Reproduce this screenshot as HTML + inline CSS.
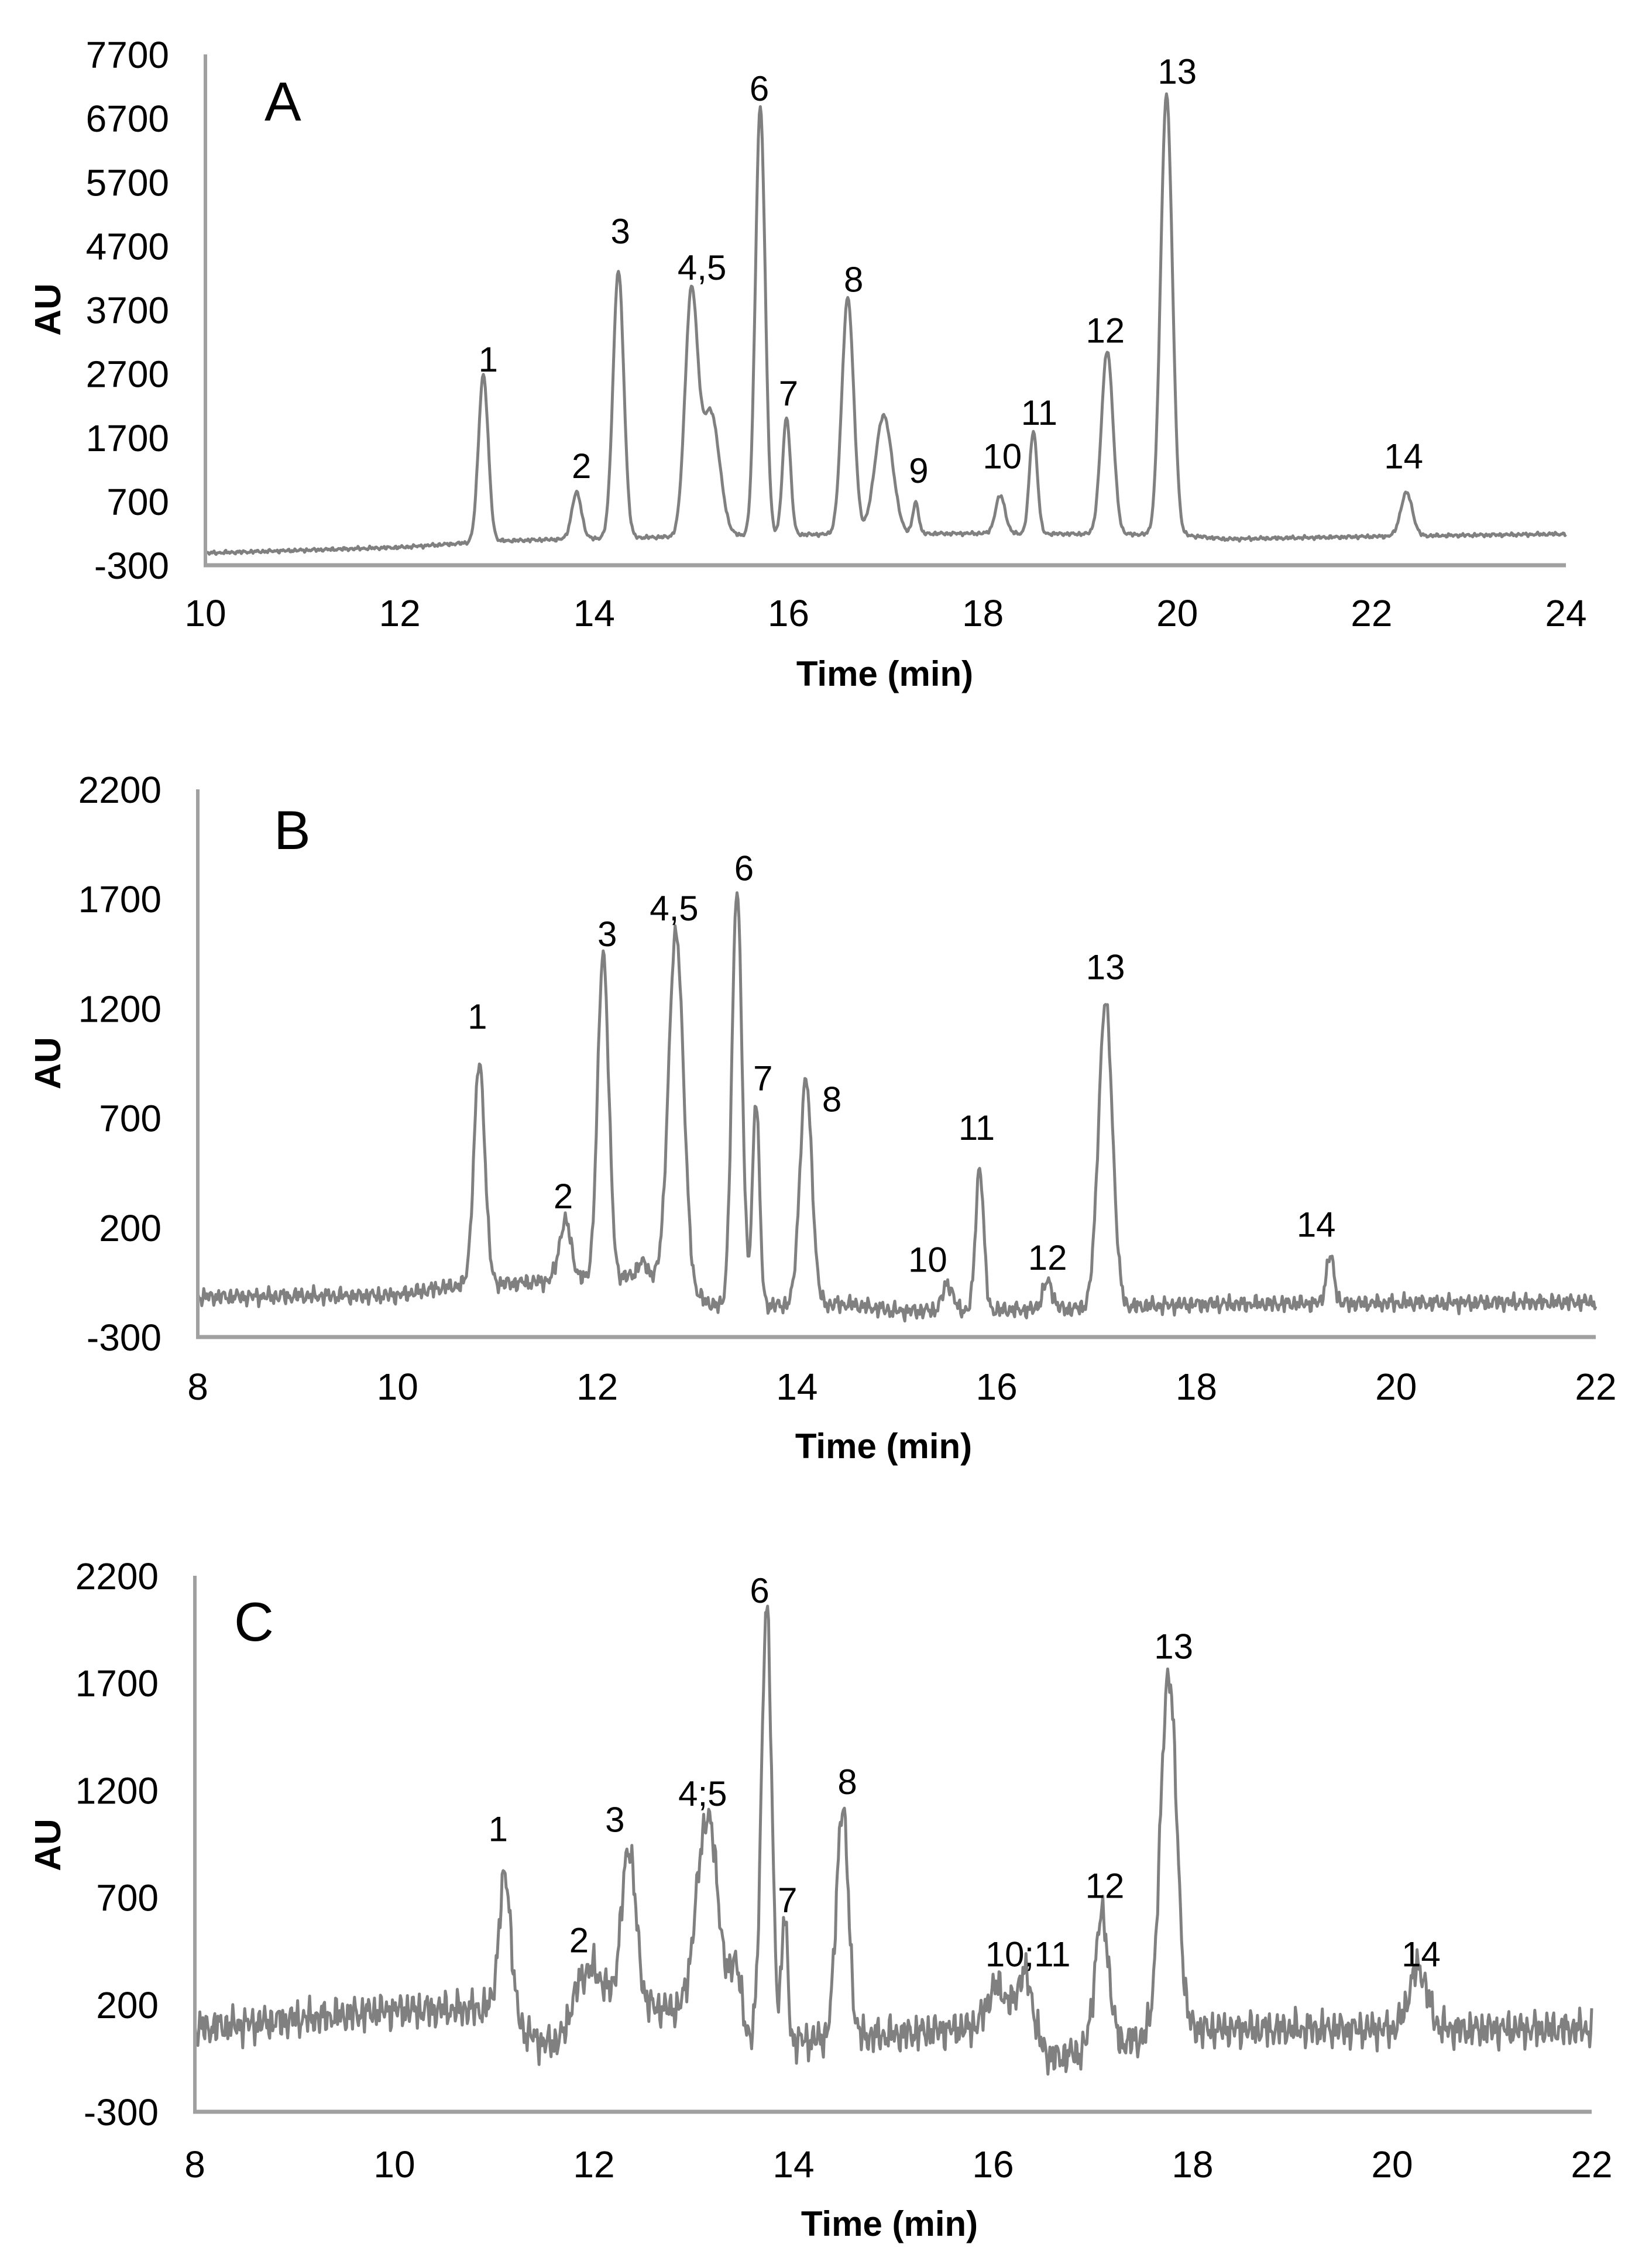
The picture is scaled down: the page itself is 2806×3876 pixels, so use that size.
<!DOCTYPE html>
<html><head><meta charset="utf-8"><style>
html,body{margin:0;padding:0;background:#fff;}
svg{display:block;}
text{font-family:"Liberation Sans",Arial,sans-serif;fill:#000;}
</style></head><body>
<svg id="fig" width="2806" height="3876" viewBox="0 0 2806 3876" xmlns="http://www.w3.org/2000/svg"></svg>
<script>
// ---- Panel A data ----
const aPeakTimes = [12.86,13.82,14.25,15.0,15.20,15.71,15.98,16.61,16.98,17.31,18.18,18.52,19.28,19.89,22.36];
const aPeakTops  = [2685,836,4314,3900,2100,6890,2026,3897,2040,685,790,1800,3064,7080,836];
const aPeakWidths= [0.05,0.05,0.055,0.065,0.09,0.05,0.04,0.06,0.09,0.03,0.05,0.04,0.06,0.06,0.06];
const aBaseT = [10,12,13,14,16,18,20,20.5,22,24];
const aBaseV = [-110,-20,80,120,180,200,180,110,150,190];
const aLabels = ["1","2","3","4,5","6","7","8","9","10","11","12","13","14"];
const aLabelT = [12.91,13.87,14.27,15.11,15.70,16.00,16.67,17.34,18.20,18.58,19.26,20.0,22.33];
const aLabelV = [2935,1268,4942,4374,7177,2405,4185,1192,1420,2101,3389,7442,1420];
const aYTicks = [-300,700,1700,2700,3700,4700,5700,6700,7700];
const aXTicks = [10,12,14,16,18,20,22,24];
// ---- Panel B data ----
const bPeakTimes = [10.82,11.68,12.06,12.45,12.79,13.40,13.59,14.09,15.51,15.83,16.51,17.09,19.34];
const bPeakTops  = [950,228,1456,40,1547,1747,788,874,-56,476,-48,1224,71];
const bPeakWidths= [0.055,0.06,0.055,0.05,0.075,0.05,0.035,0.06,0.05,0.04,0.05,0.07,0.04];
const bBaseT = [8,10,10.5,12.5,13.2,14.5,15,16.5,18,22];
const bBaseV = [-117,-110,-70,-20,-160,-150,-181,-175,-150,-140];
const bLabels = ["1","2","3","4,5","6","7","8","10","11","12","13","14"];
const bLabelT = [10.80,11.66,12.10,12.77,13.47,13.66,14.35,15.31,15.80,16.51,17.09,19.20];
const bLabelV = [1166,347,1543,1661,1844,885,788,56,659,66,1392,217];
const bYTicks = [-300,200,700,1200,1700,2200];
const bXTicks = [8,10,12,14,16,18,20,22];
// ---- Panel C data ----
const cPeakTimes = [11.11,11.85,12.35,13.14,13.42,13.73,13.91,14.49,16.05,16.32,17.09,17.76,20.26];
const cPeakTops  = [801,300,933,1077,380,2068,614,1121,284,339,614,1749,372];
const cPeakWidths= [0.06,0.15,0.07,0.11,0.05,0.05,0.03,0.06,0.1,0.08,0.07,0.08,0.09];
const cBaseT = [8,10,11,11.7,12,13,13.5,14,15,16,16.6,17.5,18,22];
const cBaseV = [85,174,180,-60,250,150,60,30,60,100,-50,40,85,85];
const cLabels = ["1","2","3","4;5","6","7","8","10;11","12","13","14"];
const cLabelT = [11.04,11.85,12.21,13.09,13.66,13.94,14.54,16.35,17.12,17.81,20.29];
const cLabelV = [1022,504,1066,1187,2134,691,1242,438,757,1874,438];
const cYTicks = [-300,200,700,1200,1700,2200];
const cXTicks = [8,10,12,14,16,18,20,22];

const NS="http://www.w3.org/2000/svg";
const svg=document.getElementById('fig');
function mk(tag,attrs,parent){const e=document.createElementNS(NS,tag);for(const k in attrs)e.setAttribute(k,attrs[k]);(parent||svg).appendChild(e);return e;}
function interp(ts,vs,t){if(t<=ts[0])return vs[0];for(let i=1;i<ts.length;i++){if(t<=ts[i]){const f=(t-ts[i-1])/(ts[i]-ts[i-1]);return vs[i-1]+f*(vs[i]-vs[i-1]);}}return vs[vs.length-1];}
function noise(t,seed){return Math.sin(t*97.3+seed)*0.45+Math.sin(t*211.7+seed*2.1)*0.35+Math.sin(t*463.1+seed*3.7)*0.3+Math.sin(t*41.9+seed*0.7)*0.2;}

function panel(cfg){
  const g=mk('g',{});
  
  
  const xs=t=>cfg.x0+(t-cfg.t0)/(cfg.t1-cfg.t0)*(cfg.x1-cfg.x0);
  const ys=v=>cfg.yb+(v-cfg.v0)/(cfg.v1-cfg.v0)*(cfg.yt-cfg.yb);
  cfg.yTicks.forEach(v=>{const t=mk('text',{x:cfg.x0-62,y:ys(v)+23,'text-anchor':'end','font-size':64},g);t.textContent=String(v);
    
    });
  cfg.xTicks.forEach(v=>{const t=mk('text',{x:xs(v),y:cfg.xLabY+23,'text-anchor':'middle','font-size':64},g);t.textContent=String(v);
    
    });
  let d='';
  for(let t=cfg.t0;t<=cfg.t1+1e-9;t+=0.01){
    let v=interp(cfg.bT,cfg.bV,t);
    for(let i=0;i<cfg.pT.length;i++){const amp=cfg.pV[i]-interp(cfg.bT,cfg.bV,cfg.pT[i]);const s=cfg.pW[i];v+=amp*Math.exp(-Math.pow(t-cfg.pT[i],2)/(2*s*s));}
    v+=noise(t,cfg.seed)*cfg.na;
    d+=(d?'L':'M')+xs(t).toFixed(1)+' '+ys(v).toFixed(1);
  }
  const p=mk('path',{d:d,fill:'none',stroke:'#808080','stroke-width':5,'stroke-linejoin':'round'},g);
  
  
  const ya=mk('line',{x1:cfg.x0,y1:ys(cfg.v1),x2:cfg.x0,y2:ys(cfg.v0),stroke:'#a0a0a0','stroke-width':6},g);
  
  
  const xa=mk('line',{x1:cfg.x0-3,y1:ys(cfg.v0),x2:cfg.x1,y2:ys(cfg.v0),stroke:'#a0a0a0','stroke-width':7},g);
  
  
  cfg.lab.forEach((s,i)=>{const t=mk('text',{x:xs(cfg.lT[i]),y:ys(cfg.lV[i])+22,'text-anchor':'middle','font-size':60},g);t.textContent=s;
    
    });
  const L=mk('text',{x:cfg.letX,y:cfg.letY+34,'font-size':94},g);L.textContent=cfg.letter;
  
  
  const au=mk('text',{x:0,y:0,'font-size':62,'font-weight':'bold','text-anchor':'middle',transform:'translate('+(cfg.auX+22)+','+cfg.auY+') rotate(-90)'},g);au.textContent='AU';
  
  
  const tt=mk('text',{x:cfg.titX,y:cfg.titY+22,'font-size':60,'font-weight':'bold','text-anchor':'middle'},g);tt.textContent='Time (min)';
  
  
}

panel({name:'panel-a',letter:'A',t0:10,t1:24,x0:351,x1:2676,v0:-300,v1:7700,yb:966,yt:93,
  yTicks:aYTicks,xTicks:aXTicks,xLabY:1047,pT:aPeakTimes,pV:aPeakTops,pW:aPeakWidths,bT:aBaseT,bV:aBaseV,
  lab:aLabels,lT:aLabelT,lV:aLabelV,letX:452,letY:172,auX:81,auY:529,titX:1512,titY:1150,na:30,seed:1});
panel({name:'panel-b',letter:'B',t0:8,t1:22,x0:338,x1:2727,v0:-300,v1:2200,yb:2285,yt:1349,
  yTicks:bYTicks,xTicks:bXTicks,xLabY:2369,pT:bPeakTimes,pV:bPeakTops,pW:bPeakWidths,bT:bBaseT,bV:bBaseV,
  lab:bLabels,lT:bLabelT,lV:bLabelV,letX:468,letY:1417,auX:81,auY:1817,titX:1510,titY:2470,na:40,seed:2});
panel({name:'panel-c',letter:'C',t0:8,t1:22,x0:333,x1:2720,v0:-300,v1:2200,yb:3609,yt:2693,
  yTicks:cYTicks,xTicks:cXTicks,xLabY:3698,pT:cPeakTimes,pV:cPeakTops,pW:cPeakWidths,bT:cBaseT,bV:cBaseV,
  lab:cLabels,lT:cLabelT,lV:cLabelV,letX:400,letY:2770,auX:81,auY:3153,titX:1520,titY:3799,na:90,seed:3});
</script>
</body></html>
